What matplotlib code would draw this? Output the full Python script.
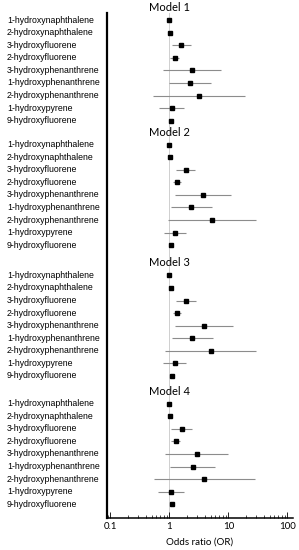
import matplotlib
matplotlib.use("Agg")
import matplotlib.pyplot as plt
import matplotlib.transforms as mtransforms
import numpy as np

compounds = ["1-hydroxynaphthalene", "2-hydroxynaphthalene", "3-hydroxyfluorene",
             "2-hydroxyfluorene", "3-hydroxyphenanthrene", "1-hydroxyphenanthrene",
             "2-hydroxyphenanthrene", "1-hydroxypyrene", "9-hydroxyfluorene"]
models = ["Model 1", "Model 2", "Model 3", "Model 4"]

# odds ratios and 95% CI per model
or_m1 = [1.00, 1.03, 1.60, 1.25, 2.42, 2.24, 3.20, 1.11, 1.05]
lo_m1 = [0.98, 1.01, 1.11, 1.03, 0.77, 1.00, 0.52, 0.68, 1.00]
hi_m1 = [1.02, 1.05, 2.30, 1.44, 7.60, 5.00, 19.4, 1.75, 1.10]

or_m2 = [1.00, 1.04, 1.89, 1.35, 3.72, 2.36, 5.30, 1.23, 1.08]
lo_m2 = [0.98, 1.02, 1.30, 1.17, 1.23, 1.07, 0.94, 0.80, 1.01]
hi_m2 = [1.02, 1.06, 2.73, 1.58, 11.1, 5.20, 29.0, 1.92, 1.15]

or_m3 = [1.00, 1.05, 1.94, 1.37, 3.87, 2.42, 5.10, 1.25, 1.11]
lo_m3 = [0.98, 1.03, 1.31, 1.15, 1.26, 1.10, 0.86, 0.79, 1.03]
hi_m3 = [1.02, 1.07, 2.83, 1.60, 12.0, 5.50, 30.0, 1.94, 1.19]

or_m4 = [1.00, 1.04, 1.62, 1.28, 2.90, 2.49, 3.90, 1.07, 1.10]
lo_m4 = [0.98, 1.02, 1.07, 1.05, 0.86, 1.03, 0.54, 0.65, 1.03]
hi_m4 = [1.02, 1.06, 2.45, 1.52, 9.90, 6.00, 28.0, 1.80, 1.17]

ors = [or_m1, or_m2, or_m3, or_m4]
los = [lo_m1, lo_m2, lo_m3, lo_m4]
his = [hi_m1, hi_m2, hi_m3, hi_m4]

block_start = [0.0, 9.9, 20.3, 30.5]

fig = plt.figure(figsize=(2.99, 5.5), dpi=100)
ax = fig.add_axes([0.358, 0.058, 0.622, 0.918])

ax.axvline(1.0, color="#cfcfcf", linewidth=0.7, zorder=0)

lab_tr = mtransforms.blended_transform_factory(fig.transFigure, ax.transData)

for b in range(len(models)):
    y = block_start[b] + np.arange(len(compounds))
    o = np.array(ors[b])
    lo = np.array(los[b])
    hi = np.array(his[b])
    ax.hlines(y, lo, hi, color="#8c8c8c", linewidth=0.8, zorder=1)
    ax.plot(o, y, linestyle="none", marker="s", markersize=3.2, color="k", zorder=2)
    ax.text(1.0, block_start[b] - 1.0, models[b], ha="center", va="center",
            fontsize=8, family=["Lato", "DejaVu Sans"], clip_on=False)
    for yi, name in zip(y, compounds):
        fig.text(0.023, yi, name, transform=lab_tr, ha="left", va="center",
                 fontsize=6.3, family=["Liberation Sans", "DejaVu Sans"])

ax.set_xscale("log")
ax.set_xlim(0.088, 125)
ax.set_ylim(39.6, -0.55)

ax.set_yticks([])
ax.set_xticks([0.1, 1, 10, 100])
ax.set_xticklabels(["0.1", "1", "10", "100"], family=["Lato", "DejaVu Sans"], fontsize=7)
ax.tick_params(axis="x", which="major", direction="in", length=4, width=0.6, pad=2.5)
ax.tick_params(axis="x", which="minor", direction="in", length=2.5, width=0.5)
ax.set_xlabel("Odds ratio (OR)", family=["Lato", "DejaVu Sans"], fontsize=7, labelpad=5)

ax.spines["top"].set_visible(False)
ax.spines["right"].set_visible(False)
ax.spines["left"].set_linewidth(1.6)
ax.spines["bottom"].set_linewidth(1.1)

fig.savefig("out.png", dpi=100)
